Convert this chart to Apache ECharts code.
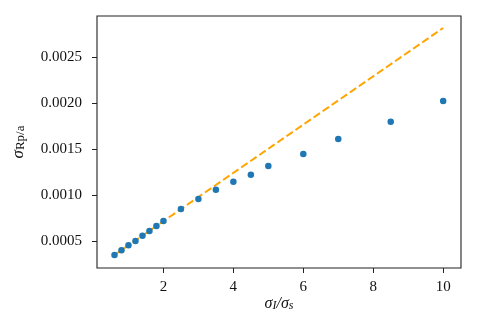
<!DOCTYPE html>
<html>
<head>
<meta charset="utf-8">
<script src="https://cdn.jsdelivr.net/npm/echarts@6/dist/echarts.min.js"></script>
<style>
html,body{margin:0;padding:0;background:#fff;}
#chart{width:485px;height:315px;}
</style>
</head>
<body>
<div id="chart"></div>
<script>
// Data
var xValues = [0.6, 0.8, 1.0, 1.2, 1.4, 1.6, 1.8, 2.0, 2.5, 3.0, 3.5, 4.0, 4.5, 5.0, 6.0, 7.0, 8.5, 10.0];
var yValues = [0.000351, 0.000402, 0.000457, 0.000504, 0.000562, 0.000612, 0.000667, 0.000721, 0.000851, 0.00096, 0.001062, 0.001149, 0.001225, 0.001318, 0.001449, 0.001612, 0.0018, 0.002025];
var lineX = [0.6, 10.0];
var lineY = [0.000351, 0.00282];
var xTicks = [2, 4, 6, 8, 10];
var yTicks = [0.0005, 0.0010, 0.0015, 0.0020, 0.0025];

var font = "'Liberation Serif', 'DejaVu Serif', serif";
var chart = echarts.init(document.getElementById('chart'), null, {renderer: 'canvas'});
chart.setOption({
  animation: false,
  backgroundColor: '#fff',
  grid: {left: 97, right: 24, top: 16, bottom: 47, outerBoundsMode: 'none', containLabel: false,
    show: true, borderColor: '#222', borderWidth: 1.1, backgroundColor: 'transparent'},
  xAxis: {
    type: 'value', min: 0.1, max: 10.51,
    axisLine: {show: false},
    splitLine: {show: false},
    axisTick: {show: true, customValues: xTicks, length: 5, lineStyle: {color: '#222', width: 1}},
    axisLabel: {customValues: xTicks, margin: 12, color: '#111', fontFamily: font, fontSize: 15},
    name: '{m|σ}{s|I}{m|/σ}{s|s}',
    nameLocation: 'middle', nameGap: 26, nameMoveOverlap: false,
    nameTextStyle: {
      rich: {
        m: {fontFamily: font, fontStyle: 'italic', fontSize: 16, color: '#111', verticalAlign: 'bottom', lineHeight: 18},
        s: {fontFamily: font, fontStyle: 'italic', fontSize: 12, color: '#111', verticalAlign: 'bottom', lineHeight: 12, padding: [5, 0, 0, 0]}
      }
    }
  },
  yAxis: {
    type: 'value', min: 0.00021, max: 0.00295,
    axisLine: {show: false},
    splitLine: {show: false},
    axisTick: {show: true, customValues: yTicks, length: 5, lineStyle: {color: '#222', width: 1}},
    axisLabel: {customValues: yTicks, margin: 15, color: '#111', fontFamily: font, fontSize: 15,
      formatter: function (v) { return v.toFixed(4); }},
    name: '{m|σ}{s|Rp/a}',
    nameLocation: 'middle', nameGap: 70, nameRotate: 90, nameMoveOverlap: false,
    nameTextStyle: {
      rich: {
        m: {fontFamily: font, fontStyle: 'italic', fontSize: 17, color: '#111', verticalAlign: 'bottom', lineHeight: 18},
        s: {fontFamily: font, fontSize: 13, color: '#111', verticalAlign: 'bottom', lineHeight: 14, padding: [6, 0, 0, 0]}
      }
    }
  },
  series: [
    {
      type: 'line',
      data: lineX.map(function (x, i) { return [x, lineY[i]]; }),
      showSymbol: false, symbol: 'none',
      lineStyle: {color: '#FFA500', width: 2, type: [7.7, 3.3]},
      z: 1
    },
    {
      type: 'scatter',
      data: xValues.map(function (x, i) { return [x, yValues[i]]; }),
      symbolSize: 6.5,
      itemStyle: {color: '#1f77b4', opacity: 1},
      z: 2
    }
  ]
});
</script>
</body>
</html>
